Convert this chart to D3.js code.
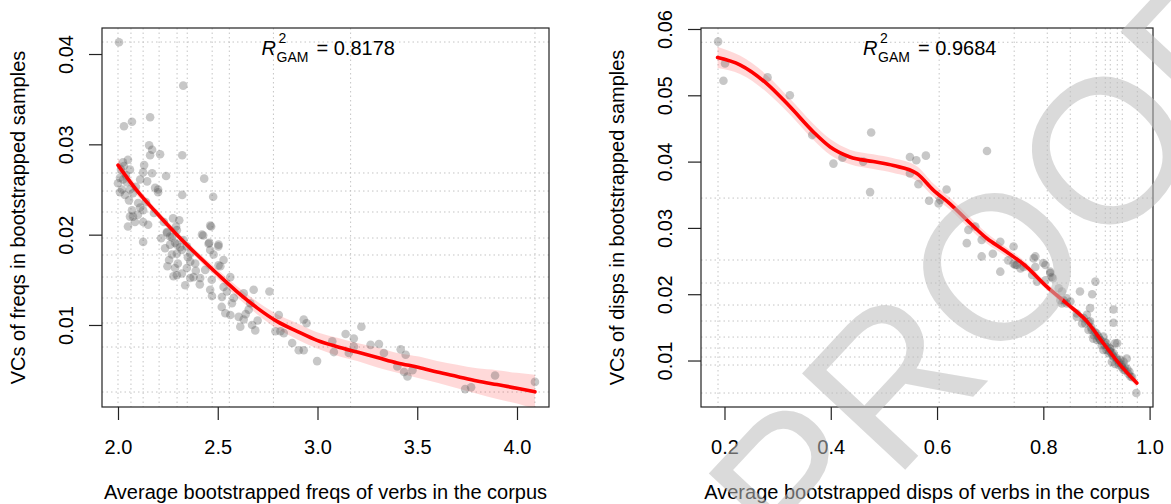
<!DOCTYPE html>
<html>
<head>
<meta charset="utf-8">
<script src="https://cdn.jsdelivr.net/npm/d3@7"></script>
<style>
  body { margin: 0; background: #fff; }
  svg { display: block; font-family: "Liberation Sans", Arial, Helvetica, sans-serif; }
  .grid line { stroke: #c4c4c4; stroke-width: 1; stroke-dasharray: 1.5 3; }
  .axis text { font-size: 20px; fill: #000; }
  .axis line { stroke: #222; stroke-width: 1.2; }
</style>
</head>
<body>
<svg width="1171" height="504"></svg>
<script>
// ---- data ----
const freqPoints = [
  [2.005,0.0413],[2.327,0.0365],[2.030,0.0320],[2.070,0.0325],[2.161,0.0330],[2.156,0.0299],[2.171,0.0294],[2.161,0.0288],[2.211,0.0289],[2.322,0.0288],
  [2.025,0.0280],[2.030,0.0276],[2.060,0.0272],[2.131,0.0277],[2.126,0.0269],[2.171,0.0268],[2.241,0.0265],[2.432,0.0262],[2.010,0.0263],[2.025,0.0261],
  [2.045,0.0258],[2.111,0.0261],[2.146,0.0259],[2.000,0.0257],[2.186,0.0252],[2.201,0.0250],[2.322,0.0244],[2.477,0.0242],[2.010,0.0247],[2.035,0.0244],
  [2.060,0.0250],[2.075,0.0246],[2.101,0.0235],[2.111,0.0230],[2.126,0.0227],[2.070,0.0227],[2.075,0.0220],[2.060,0.0220],[2.050,0.0209],[2.085,0.0214],
  [2.126,0.0214],[2.151,0.0211],[2.126,0.0192],[2.276,0.0218],[2.307,0.0216],[2.291,0.0209],[2.246,0.0202],[2.271,0.0197],[2.261,0.0189],[2.286,0.0191],
  [2.312,0.0186],[2.467,0.0209],[2.427,0.0199],[2.457,0.0191],[2.503,0.0187],[2.201,0.0247],[2.050,0.0283],[2.015,0.0272],
  [2.245,0.0203],[2.295,0.0205],[2.261,0.0198],[2.295,0.0189],[2.328,0.0194],[2.345,0.0187],[2.362,0.0179],[2.295,0.0179],[2.320,0.0183],[2.270,0.0178],
  [2.248,0.0165],[2.286,0.0163],[2.295,0.0155],[2.320,0.0157],[2.345,0.0163],[2.362,0.0170],[2.387,0.0168],[2.421,0.0200],[2.454,0.0190],[2.462,0.0183],
  [2.504,0.0189],[2.479,0.0178],[2.529,0.0172],[2.513,0.0165],[2.437,0.0161],[2.337,0.0144],[2.362,0.0152],[2.412,0.0152],[2.378,0.0153],[2.278,0.0154],
  [2.462,0.0210],[2.504,0.0166],[2.563,0.0153],[2.529,0.0142],[2.462,0.0139],[2.471,0.0132],[2.521,0.0131],[2.546,0.0137],[2.571,0.0124],[2.538,0.0113],
  [2.563,0.0111],[2.605,0.0109],[2.630,0.0135],[2.680,0.0139],[2.759,0.0137],[2.655,0.0117],[2.630,0.0106],[2.672,0.0100],[2.688,0.0094],[2.613,0.0098],
  [2.663,0.0124],[2.806,0.0111],[2.814,0.0093],[2.789,0.0093],[2.831,0.0091],[2.873,0.0080],[2.906,0.0072],[2.931,0.0072],[2.931,0.0106],[2.945,0.0102],
  [2.998,0.0060],[3.074,0.0082],[3.082,0.0070],[3.141,0.0090],[3.182,0.0085],[3.220,0.0098],[3.182,0.0076],[3.157,0.0069],[3.266,0.0078],[3.308,0.0079],
  [3.333,0.0069],[3.417,0.0073],[3.442,0.0067],[3.400,0.0054],[3.434,0.0048],[3.451,0.0043],[3.476,0.0050],
  [3.740,0.0029],[3.770,0.0031],[3.890,0.0044],[4.090,0.0037],
  [2.040,0.0266],[2.055,0.0238],[2.090,0.0253],[2.100,0.0222],[2.020,0.0250],[2.140,0.0236],[2.180,0.0224],[2.230,0.0214],[2.216,0.0196],[2.256,0.0172],
  [2.236,0.0185],[2.350,0.0175],[2.300,0.0168],[2.390,0.0160],[2.410,0.0145],[2.470,0.0150],[2.520,0.0120],[2.580,0.0130],[2.640,0.0112],[2.700,0.0105]
];

const dispPoints = [
  [0.188,0.0581],[0.201,0.0548],[0.198,0.0522],[0.281,0.0527],[0.323,0.0500],[0.365,0.0440],[0.405,0.0397],[0.422,0.0406],[0.461,0.0400],[0.476,0.0444],
  [0.474,0.0354],[0.549,0.0407],[0.561,0.0402],[0.579,0.0409],[0.549,0.0382],[0.565,0.0366],
  [0.694,0.0416],[0.618,0.0358],[0.585,0.0341],[0.603,0.0337],[0.606,0.0342],[0.659,0.0297],[0.672,0.0302],[0.656,0.0277],[0.684,0.0282],[0.684,0.0257],
  [0.705,0.0261],[0.719,0.0279],[0.744,0.0272],[0.719,0.0234],[0.747,0.0244],
  [0.734,0.0251],[0.744,0.0246],[0.750,0.0244],[0.757,0.0239],[0.763,0.0241],[0.782,0.0254],[0.785,0.0241],[0.779,0.0229],[0.788,0.0219],
  [0.804,0.0244],[0.813,0.0232],[0.818,0.0224],[0.829,0.0209],[0.835,0.0204],[0.844,0.0194],[0.835,0.0186],[0.851,0.0189],
  [0.869,0.0204],[0.898,0.0219],[0.892,0.0200],[0.863,0.0171],[0.876,0.0164],[0.873,0.0156],[0.882,0.0169],
  [0.891,0.0146],[0.900,0.0141],[0.894,0.0133],[0.907,0.0131],[0.913,0.0136],[0.919,0.0126],[0.926,0.0118],[0.913,0.0116],[0.923,0.0111],[0.932,0.0106],
  [0.939,0.0101],[0.929,0.0098],[0.942,0.0093],[0.951,0.0086],[0.957,0.0103],[0.939,0.0126],
  [0.932,0.0177],[0.932,0.0157],[0.975,0.0051],[0.964,0.0076],[0.888,0.0179],
  [0.785,0.0257],[0.800,0.0247],[0.813,0.0234],[0.816,0.0226],[0.804,0.0221],[0.838,0.0191],[0.844,0.0186],[0.832,0.0191],
  [0.863,0.0166],[0.879,0.0156],[0.888,0.0159],[0.885,0.0146],
  [0.895,0.0138],[0.901,0.0131],[0.910,0.0123],[0.919,0.0116],[0.926,0.0118],[0.932,0.0111],[0.945,0.0101],[0.951,0.0098],[0.935,0.0095],[0.948,0.0090],
  [0.954,0.0085],[0.960,0.0080],[0.967,0.0075],[0.935,0.0126],
  [0.885,0.0158],[0.890,0.0150],[0.897,0.0143],[0.903,0.0137],[0.908,0.0130],[0.915,0.0124],[0.920,0.0120],[0.925,0.0114],[0.930,0.0108],[0.937,0.0104],
  [0.943,0.0097],[0.947,0.0094],[0.953,0.0091],[0.958,0.0087],[0.962,0.0083],[0.916,0.0128],[0.905,0.0134],[0.928,0.0112]
];

// GAM fit and half-width of the confidence band
const freqFitX  = [2.000, 2.094, 2.194, 2.295, 2.395, 2.496, 2.596, 2.697, 2.797, 2.898, 2.998, 3.099, 3.199, 3.300, 3.400, 3.509, 3.600, 3.700, 3.800, 3.900, 4.000, 4.090];
const freqFitY  = [0.0277, 0.0249, 0.0224, 0.0200, 0.0178, 0.0157, 0.0137, 0.0119, 0.0104, 0.0093, 0.0083, 0.0076, 0.0070, 0.0064, 0.0058, 0.0053, 0.0048, 0.0043, 0.0038, 0.0034, 0.0030, 0.0026];
const freqFitSE = [0.0007, 0.0005, 0.0004, 0.0004, 0.0004, 0.0005, 0.0006, 0.0007, 0.0008, 0.0009, 0.0009, 0.0010, 0.0010, 0.0011, 0.0011, 0.0012, 0.0012, 0.0013, 0.0014, 0.0016, 0.0017, 0.0019];

const dispFitX  = [0.187, 0.229, 0.279, 0.323, 0.367, 0.399, 0.436, 0.480, 0.518, 0.562, 0.593, 0.625, 0.656, 0.694, 0.725, 0.769, 0.807, 0.844, 0.882, 0.913, 0.945, 0.976];
const dispFitY  = [0.0557, 0.0546, 0.0518, 0.0483, 0.0445, 0.0422, 0.0407, 0.0400, 0.0394, 0.0382, 0.0357, 0.0336, 0.0312, 0.0284, 0.0267, 0.0241, 0.0211, 0.0186, 0.0159, 0.0126, 0.0093, 0.0066];
const dispFitSE = [0.0016, 0.0014, 0.0013, 0.0012, 0.0012, 0.0012, 0.0011, 0.0011, 0.0011, 0.0011, 0.0010, 0.0009, 0.0009, 0.0008, 0.0007, 0.0006, 0.0005, 0.0005, 0.0004, 0.0004, 0.0005, 0.0006];

// dotted reference lines (deciles of the data)
const freqGridX = [2.000, 2.065, 2.126, 2.206, 2.296, 2.347, 2.472, 2.558, 2.779, 3.166, 4.090];
const freqGridY = [0.00258, 0.00756, 0.01022, 0.01299, 0.01531, 0.01775, 0.01963, 0.02251, 0.02483, 0.02683, 0.04133];
const dispGridX = [0.1878, 0.6040, 0.7452, 0.8074, 0.8507, 0.8996, 0.9166, 0.9260, 0.9392, 0.9486, 0.9769];
const dispGridY = [0.00510, 0.00932, 0.01053, 0.01189, 0.01354, 0.01596, 0.01837, 0.02169, 0.02516, 0.03450, 0.05800];

const freqTicksX = [2.0, 2.5, 3.0, 3.5, 4.0];
const freqTicksY = [0.01, 0.02, 0.03, 0.04];
const dispTicksX = [0.2, 0.4, 0.6, 0.8, 1.0];
const dispTicksY = [0.01, 0.02, 0.03, 0.04, 0.05, 0.06];

const r2Labels = ["0.8178", "0.9684"];
const xTitles = ["Average bootstrapped freqs of verbs in the corpus", "Average bootstrapped disps of verbs in the corpus"];
const yTitles = ["VCs of freqs in bootstrapped samples", "VCs of disps in bootstrapped samples"];

// ---- layout ----
const panels = [
  {
    id: "freq", left: 102, right: 549, top: 28, bottom: 407,
    xDomain: [1.9198, 4.1604], yDomain: [0.00092, 0.04288],
    points: freqPoints, fitX: freqFitX, fitY: freqFitY, fitSE: freqFitSE,
    gridX: freqGridX, gridY: freqGridY, ticksX: freqTicksX, ticksY: freqTicksY,
    r2: r2Labels[0], xTitle: xTitles[0], yTitle: yTitles[0]
  },
  {
    id: "disp", left: 701, right: 1153, top: 28, bottom: 407,
    xDomain: [0.1558, 1.0064], yDomain: [0.00299, 0.06015],
    points: dispPoints, fitX: dispFitX, fitY: dispFitY, fitSE: dispFitSE,
    gridX: dispGridX, gridY: dispGridY, ticksX: dispTicksX, ticksY: dispTicksY,
    r2: r2Labels[1], xTitle: xTitles[1], yTitle: yTitles[1]
  }
];

const svg = d3.select("svg");
svg.append("rect").attr("width", 1171).attr("height", 504).attr("fill", "#fff");

panels.forEach(render);

function render(p) {
  const x = d3.scaleLinear().domain(p.xDomain).range([p.left, p.right]);
  const y = d3.scaleLinear().domain(p.yDomain).range([p.bottom, p.top]);
  const cx = (p.left + p.right) / 2,
    cy = (p.top + p.bottom) / 2;

  svg.append("clipPath")
    .attr("id", "clip-" + p.id)
    .append("rect")
    .attr("x", p.left).attr("y", p.top)
    .attr("width", p.right - p.left).attr("height", p.bottom - p.top);

  const g = svg.append("g").attr("clip-path", "url(#clip-" + p.id + ")");

  const grid = g.append("g").attr("class", "grid");
  grid.selectAll(".gx")
    .data(p.gridX)
    .enter()
    .append("line")
    .attr("x1", d => x(d)).attr("x2", d => x(d))
    .attr("y1", p.top).attr("y2", p.bottom);
  grid.selectAll(".gy")
    .data(p.gridY)
    .enter()
    .append("line")
    .attr("x1", p.left).attr("x2", p.right)
    .attr("y1", d => y(d)).attr("y2", d => y(d));

  const fit = p.fitX.map((d, i) => ({x: d, y: p.fitY[i], se: p.fitSE[i]}));

  g.append("path")
    .datum(fit)
    .attr("fill", "rgba(255,0,0,0.15)")
    .attr("d", d3.area()
      .x(d => x(d.x))
      .y0(d => y(d.y - d.se))
      .y1(d => y(d.y + d.se))
      .curve(d3.curveMonotoneX));

  g.selectAll(".pt")
    .data(p.points)
    .enter()
    .append("circle")
    .attr("cx", d => x(d[0]))
    .attr("cy", d => y(d[1]))
    .attr("r", 4.3)
    .attr("fill", "#555")
    .attr("fill-opacity", 0.33);

  g.append("path")
    .datum(fit)
    .attr("fill", "none")
    .attr("stroke", "#ff0000")
    .attr("stroke-width", 3.6)
    .attr("stroke-linecap", "round")
    .attr("d", d3.line()
      .x(d => x(d.x))
      .y(d => y(d.y))
      .curve(d3.curveMonotoneX));

  // axes
  const xAxis = svg.append("g")
    .attr("class", "axis")
    .attr("transform", "translate(0," + p.bottom + ")")
    .call(d3.axisBottom(x).tickValues(p.ticksX).tickSize(13).tickPadding(20).tickFormat(d3.format(".1f")));
  xAxis.select(".domain").remove();
  xAxis.selectAll("text").attr("font-family", null).attr("font-size", null);

  const yAxis = svg.append("g")
    .attr("class", "axis")
    .attr("transform", "translate(" + p.left + ",0)")
    .call(d3.axisLeft(y).tickValues(p.ticksY).tickSize(13).tickFormat(d3.format(".2f")));
  yAxis.select(".domain").remove();
  yAxis.selectAll("text")
    .attr("font-family", null).attr("font-size", null)
    .attr("x", null).attr("dy", null)
    .attr("text-anchor", "middle")
    .attr("transform", "translate(-29,0) rotate(-90)");

  svg.append("rect")
    .attr("x", p.left).attr("y", p.top)
    .attr("width", p.right - p.left).attr("height", p.bottom - p.top)
    .attr("fill", "none")
    .attr("stroke", "#222")
    .attr("stroke-width", 1.2);

  // titles
  svg.append("text")
    .attr("x", cx).attr("y", 499)
    .attr("text-anchor", "middle")
    .attr("font-size", 20)
    .text(p.xTitle);

  svg.append("text")
    .attr("transform", "translate(" + (p.left - 77) + "," + cy + ") rotate(-90)")
    .attr("text-anchor", "middle")
    .attr("font-size", 20)
    .text(p.yTitle);

  // R^2 label
  const lab = svg.append("g").attr("transform", "translate(" + (cx - 64) + ",55)");
  lab.append("text").attr("font-size", 20).attr("font-style", "italic").text("R");
  lab.append("text").attr("x", 17).attr("y", -12).attr("font-size", 14).text("2");
  lab.append("text").attr("x", 15).attr("y", 7).attr("font-size", 14).text("GAM");
  lab.append("text").attr("x", 55).attr("font-size", 20).text("= " + p.r2);
}

// watermark
svg.append("text")
  .attr("transform", "translate(995,265) rotate(-47)")
  .attr("text-anchor", "middle")
  .attr("dy", "0.36em")
  .attr("font-size", 205)
  .attr("fill", "#bcbcbc")
  .attr("fill-opacity", 0.55)
  .text("PROOF");
</script>
</body>
</html>
